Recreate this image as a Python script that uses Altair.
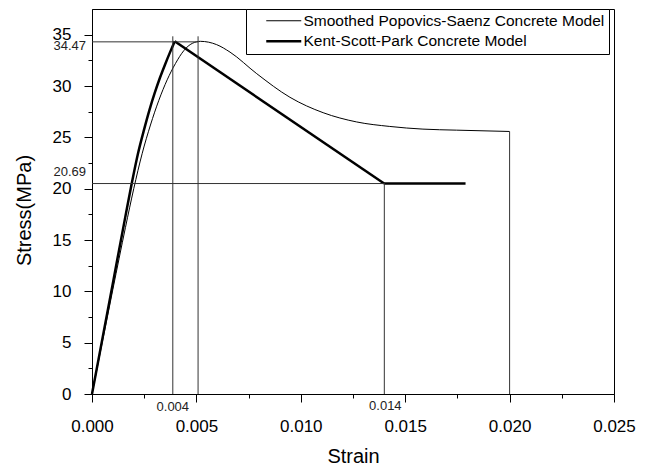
import altair as alt
import pandas as pd

# ---- data ----
series_names = ["Smoothed Popovics-Saenz Concrete Model", "Kent-Scott-Park Concrete Model"]

pop_strain = [0, 0.001, 0.0016, 0.002, 0.0024, 0.0028, 0.0032, 0.0036, 0.004, 0.0044,
              0.0048, 0.0052, 0.00597, 0.00661, 0.00789, 0.00948, 0.01107, 0.01267,
              0.01426, 0.01585, 0.01745, 0.0200]
pop_stress = [0, 10.2, 16.2, 20.0, 23.4, 26.2, 28.6, 30.6, 32.2, 33.45,
              34.15, 34.35, 34.03, 33.3, 31.2, 28.9, 27.4, 26.5,
              26.06, 25.8, 25.7, 25.57]

# Kent-Scott-Park: rising branch (seg 0), descending branch (seg 1), residual plateau (seg 2)
kent_strain = [0, 0.001, 0.0016, 0.0019, 0.0022, 0.0025, 0.00275, 0.003, 0.00325, 0.0035,
               0.00373, 0.00396, 0.01399, 0.01789]
kent_stress = [0, 10.8, 17.3, 20.47, 23.4, 25.8, 27.65, 29.3, 30.78, 32.1,
               33.25, 34.35, 20.5, 20.5]
kent_branch = [0, 0, 0, 0, 0, 0, 0, 0, 0, 0, 0, 0, 1, 2]

guide_x = [0, 0.00387, 0.00508, 0, 0.014, 0.020]
guide_x2 = [0.0051, 0.00387, 0.00508, 0.014, 0.014, 0.020]
guide_y = [34.3, 0, 0, 20.5, 0, 0]
guide_y2 = [34.3, 34.84, 34.84, 20.5, 20.5, 25.57]

ann_text = ["34.47", "20.69", "0.004", "0.014"]
ann_x = [0, 0, 0.00387, 0.014]
ann_y = [34.3, 20.5, 0, 0]

x_major = [0, 0.005, 0.010, 0.015, 0.020, 0.025]
x_minor = [0.0025, 0.0075, 0.0125, 0.0175, 0.0225]
y_major = [0, 5, 10, 15, 20, 25, 30, 35]
y_minor = [2.5, 7.5, 12.5, 17.5, 22.5, 27.5, 32.5]

# ---- tables ----
pop_df = pd.DataFrame({"strain": pop_strain, "stress": pop_stress,
                       "series": series_names[0], "idx": range(len(pop_strain))})

rows = []
for i in range(len(kent_strain)):
    b = kent_branch[i]
    # each later branch starts where the previous one ended
    if i > 0 and kent_branch[i - 1] != b:
        rows.append({"strain": kent_strain[i - 1], "stress": kent_stress[i - 1],
                     "series": series_names[1], "seg": b, "idx": i - 0.5})
    rows.append({"strain": kent_strain[i], "stress": kent_stress[i],
                 "series": series_names[1], "seg": b, "idx": i})
kent_df = pd.DataFrame(rows)
rise_df = kent_df[kent_df["seg"] == 0]
rest_df = kent_df[kent_df["seg"] > 0]

guide_df = pd.DataFrame({"x": guide_x, "x2": guide_x2, "y": guide_y, "y2": guide_y2})
ann_df = pd.DataFrame({"label": ann_text, "x": ann_x, "y": ann_y})

FONT = "Liberation Sans"
xs = alt.Scale(domain=[0, 0.025], nice=False, zero=False)
ys = alt.Scale(domain=[0, 37.5], nice=False, zero=False)

sw = alt.StrokeWidth(
    "series:N",
    scale=alt.Scale(domain=series_names, range=[1, 2.5]),
    legend=alt.Legend(
        title=None, orient="none", legendX=154, legendY=0,
        strokeColor="black", fillColor="white", padding=4,
        symbolType="M-3.5,0H3.5", symbolSize=100,
        symbolStrokeColor="black", symbolFillColor="transparent",
        symbolOffset=26, labelOffset=12, labelLimit=0,
        labelFont=FONT, labelFontSize=15.5, labelColor="black",
        rowPadding=3.5,
    ),
)

x_main = alt.X("strain:Q", scale=xs, axis=alt.Axis(
    values=x_major, format=".3f", tickSize=8, labelPadding=16,
    title="Strain", titleFontSize=20, titleFont=FONT, titleFontWeight="normal",
    titleY=62, titleBaseline="middle", labelFlush=False, labelOverlap=False,
    orient="bottom"))
y_main = alt.Y("stress:Q", scale=ys, axis=alt.Axis(
    values=y_major, tickSize=8, labelPadding=13,
    title="Stress(MPa)", titleFontSize=20, titleFont=FONT, titleFontWeight="normal",
    titleX=-68, titleY=201, titleBaseline="middle", titleAngle=-90,
    labelFlush=False, labelOverlap=False, orient="left"))

x_none = alt.X("strain:Q", scale=xs, axis=None)
y_none = alt.Y("stress:Q", scale=ys, axis=None)

pop_line = alt.Chart(pop_df).mark_line(color="black", interpolate="monotone").encode(
    x=x_main, y=y_main, strokeWidth=sw, order="idx:Q")

kent_rise = alt.Chart(rise_df).mark_line(color="black", interpolate="monotone").encode(
    x=x_none, y=y_none, strokeWidth=sw, order="idx:Q")

kent_rest = alt.Chart(rest_df).mark_line(color="black").encode(
    x=x_none, y=y_none, strokeWidth=sw, detail="seg:N", order="idx:Q")

guides = alt.Chart(guide_df).mark_rule(color="#333333", strokeWidth=1).encode(
    x=alt.X("x:Q", scale=xs, axis=alt.Axis(
        values=x_minor, labels=False, domain=False, tickSize=4, title=None,
        orient="bottom", grid=False)),
    x2="x2:Q",
    y=alt.Y("y:Q", scale=ys, axis=alt.Axis(
        values=y_minor, labels=False, domain=False, tickSize=4, title=None,
        orient="left", grid=False)),
    y2="y2:Q",
)

def ann(i, align, dx, dy):
    return alt.Chart(ann_df.iloc[[i]]).mark_text(
        font=FONT, fontSize=13, color="#222222", align=align, baseline="middle",
        dx=dx, dy=dy).encode(
        x=alt.X("x:Q", scale=xs, axis=None),
        y=alt.Y("y:Q", scale=ys, axis=None),
        text="label:N")

texts = [ann(0, "right", -6, 4), ann(1, "right", -6, -11.5),
         ann(2, "center", 0, 13), ann(3, "center", 1, 12)]

chart = alt.layer(pop_line, kent_rise, kent_rest, guides, *texts).resolve_axis(
    x="independent", y="independent"
).properties(
    width=522, height=385,
    autosize=alt.AutoSizeParams(type="none"),
    padding={"left": 84, "top": 1, "right": 30, "bottom": 74},
).configure_view(
    stroke="black", strokeWidth=1
).configure_axis(
    grid=False, domainColor="black", tickColor="black", labelColor="black",
    titleColor="black", labelFont=FONT, labelFontSize=17, titleFont=FONT,
    domainWidth=1, tickWidth=1
)

chart.save("out.html", embed_options={"renderer": "svg", "actions": False})
